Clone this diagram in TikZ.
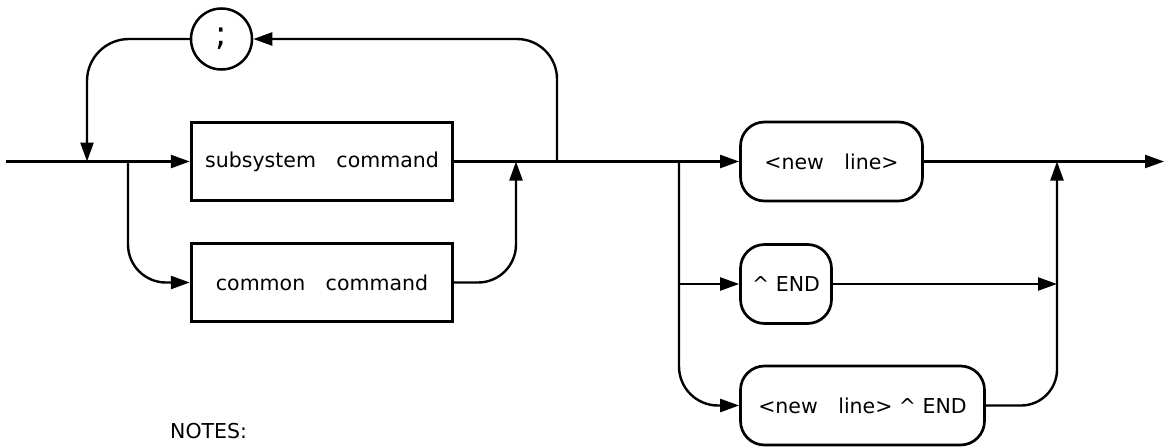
\documentclass[tikz,border=0pt]{standalone}
\usepackage{fontspec}
\setmainfont{DejaVu Sans}
\usepackage{tikz}
\usetikzlibrary{arrows.meta}
\tikzset{
	cmdbox/.style = {draw, line width=3.3pt, minimum width=261pt, minimum height=78pt, inner sep=0pt, font=\fontsize{20.5}{24}\selectfont},
	termbox/.style = {draw, line width=2.7pt, rounded corners=24pt, minimum height=79pt, inner sep=0pt, font=\fontsize{20.5}{24}\selectfont},
	sepcircle/.style = {draw, circle, line width=2.5pt, minimum size=61pt, inner sep=0pt, font=\fontsize{34}{38}\selectfont},
	flow/.style = {line width=2.4pt},
	flowarr/.style = {flow, -{Triangle[length=19pt,width=13pt]}}
}

\begin{document}
\begin{tikzpicture}[x=1pt, y=-1pt]
	\useasboundingbox (0,0) rectangle (1164,447);
	\node [sepcircle] (semi) at (221.5,39) {;};
	\node [cmdbox] (sub) at (322,161.5) {subsystem\quad command};
	\node [cmdbox] (com) at (322,282.5) {common\quad command};
	\node [termbox, minimum width=182pt] (nl) at (831.5,161.5) {<new\quad line>};
	\node [termbox, minimum width=91pt] (endk) at (786,284) {\textasciicircum{} END};
	\node [termbox, minimum width=244pt] (nlend) at (862.5,405.5) {<new\quad line> \textasciicircum{} END};
	\node [anchor=base west, inner sep=0pt, font=\fontsize{20.5}{24}\selectfont] (notes) at (170,438) {NOTES:};
	\coordinate (start) at (6,161.5);
	\coordinate (j1) at (87,161.5);
	\coordinate (j2) at (128,161.5);
	\coordinate (j3) at (516,161.5);
	\coordinate (j4) at (557,161.5);
	\coordinate (j5) at (679,161.5);
	\coordinate (j6) at (1057,161.5);
	\coordinate (j7) at (679,284);
	\coordinate (j8) at (1057,284);
	\coordinate (stop) at (1164,161.5);
	\draw [flowarr] (start) -- (sub.west);
	\draw [flowarr, rounded corners=40pt] (j4) |- (semi.east);
	\draw [flowarr, rounded corners=42pt] (semi.west) -| (j1);
	\draw [flowarr, rounded corners=38pt] (j2) |- (com.west);
	\draw [flowarr, rounded corners=38pt] (com.east) -| (j3);
	\draw [flowarr] (sub.east) -- (nl.west);
	\draw [flowarr, rounded corners=39pt] (j5) |- (nlend.west);
	\draw [flowarr] (j7) -- (endk.west);
	\draw [flowarr] (nl.east) -- (stop);
	\draw [flowarr] (endk.east) -- (j8);
	\draw [flowarr, rounded corners=36pt] (nlend.east) -| (j6);
\end{tikzpicture}
\end{document}
